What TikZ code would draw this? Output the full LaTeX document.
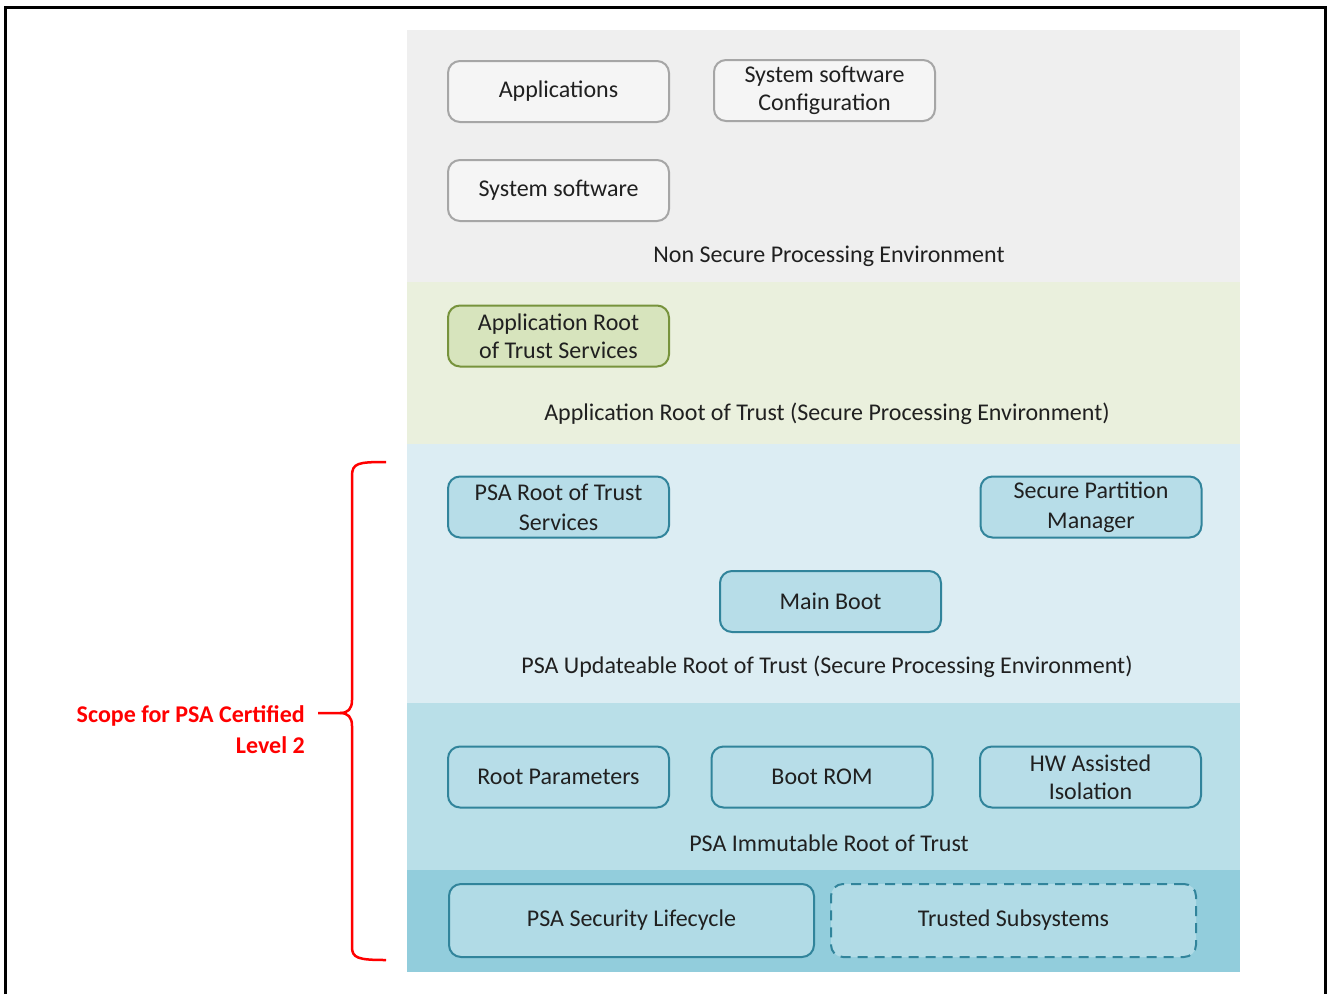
\documentclass[tikz,border=0pt]{standalone}
\usepackage{fontspec}
\setmainfont{Carlito}
\usepackage{tikz}
\usetikzlibrary{positioning}

\definecolor{nsband}{HTML}{EFEFEF}
\definecolor{arotband}{HTML}{EAF0DD}
\definecolor{urotband}{HTML}{DCEDF3}
\definecolor{irotband}{HTML}{B9DFE8}
\definecolor{lcband}{HTML}{92CDDC}
\definecolor{nsedge}{HTML}{A6A6A6}
\definecolor{arotfill}{HTML}{D7E4BD}
\definecolor{arotedge}{HTML}{77933C}
\definecolor{psafill}{HTML}{B7DDE8}
\definecolor{psaedge}{HTML}{31849B}
\definecolor{txt}{HTML}{202020}
\definecolor{scopered}{HTML}{FF0000}

\tikzset{
  blk/.style={rounded corners=12pt, line width=2pt, minimum width=221pt,
    minimum height=61pt, align=center, text=txt, inner sep=2pt},
  nsbox/.style={blk, draw=nsedge, fill=nsband!60!white},
  arotbox/.style={blk, draw=arotedge, fill=arotfill},
  psabox/.style={blk, draw=psaedge, fill=psafill},
  lcbox/.style={blk, draw=psaedge, fill=psafill!85!lcband, minimum width=365pt,
    minimum height=73pt},
  dashbox/.style={lcbox, dashed, dash pattern=on 10pt off 7pt},
  lbl/.style={text=txt, inner sep=0pt}
}

\begin{document}
\begin{tikzpicture}[x=1pt,y=-1pt,font=\fontsize{24}{28}\selectfont]
    \useasboundingbox (0,0) rectangle (1328,994);
    \draw[line width=3pt] (5,994) -- (5,7) -- (1325,7) -- (1325,994);

    % bands
    \fill[nsband]   (407,30)  rectangle (1240,282);
    \fill[arotband] (407,282) rectangle (1240,444);
    \fill[urotband] (407,444) rectangle (1240,703);
    \fill[irotband] (407,703) rectangle (1240,870);
    \fill[lcband]   (407,870) rectangle (1240,972);

    % non secure processing environment
    \node[nsbox] (apps)   at (558.5,91.5)  {Applications};
    \node[nsbox] (swconf) at (824.5,90.5)  {System software\\Configuration};
    \node[nsbox] (sw)     at (558.5,190.5) {System software};
    \node[lbl]   (nspe)   at (829,256)     {Non Secure Processing Environment};

    % application root of trust
    \node[arotbox] (arotsrv) at (558.5,336) {Application Root\\of Trust Services};
    \node[lbl]     (arot)    at (827,414)   {Application Root of Trust (Secure Processing Environment)};

    % updateable root of trust
    \node[psabox] (psasrv) at (558.5,507)  {PSA Root of Trust\\[2pt]Services};
    \node[psabox] (spm)    at (1091,507)   {Secure Partition\\[2pt]Manager};
    \node[psabox] (mboot)  at (830.5,601.5) {Main Boot};
    \node[lbl]    (urot)   at (827,667)    {PSA Updateable Root of Trust (Secure Processing Environment)};

    % immutable root of trust
    \node[psabox] (rparam) at (558.5,777)  {Root Parameters};
    \node[psabox] (brom)   at (822,777)    {Boot ROM};
    \node[psabox] (hwiso)  at (1090.5,777) {HW Assisted\\Isolation};
    \node[lbl]    (irot)   at (829,843)    {PSA Immutable Root of Trust};

    % lifecycle
    \node[lcbox]   (lcyc) at (631.5,920.5)  {PSA Security Lifecycle};
    \node[dashbox] (tsub) at (1013.5,920.5) {Trusted Subsystems};

    % scope brace
    \coordinate (btop) at (386,462);
    \coordinate (btip) at (318,713);
    \coordinate (bbot) at (386,960);
    \draw[scopered, line width=2.5pt]
      (btop) .. controls (358,462) and (352,463) .. (352,476) -- (352,700)
      .. controls (352,709) and (348,713) .. (340,713) -- (btip);
    \draw[scopered, line width=2.5pt]
      (340,713) .. controls (348,713) and (352,717) .. (352,726) -- (352,947)
      .. controls (352,958) and (358,960) .. (bbot);
    \node[text=scopered, font=\fontsize{24}{31}\selectfont\bfseries, align=right,
      anchor=east, inner sep=0pt] (scope) at (305,730) {Scope for PSA Certified\\Level 2};
\end{tikzpicture}
\end{document}
